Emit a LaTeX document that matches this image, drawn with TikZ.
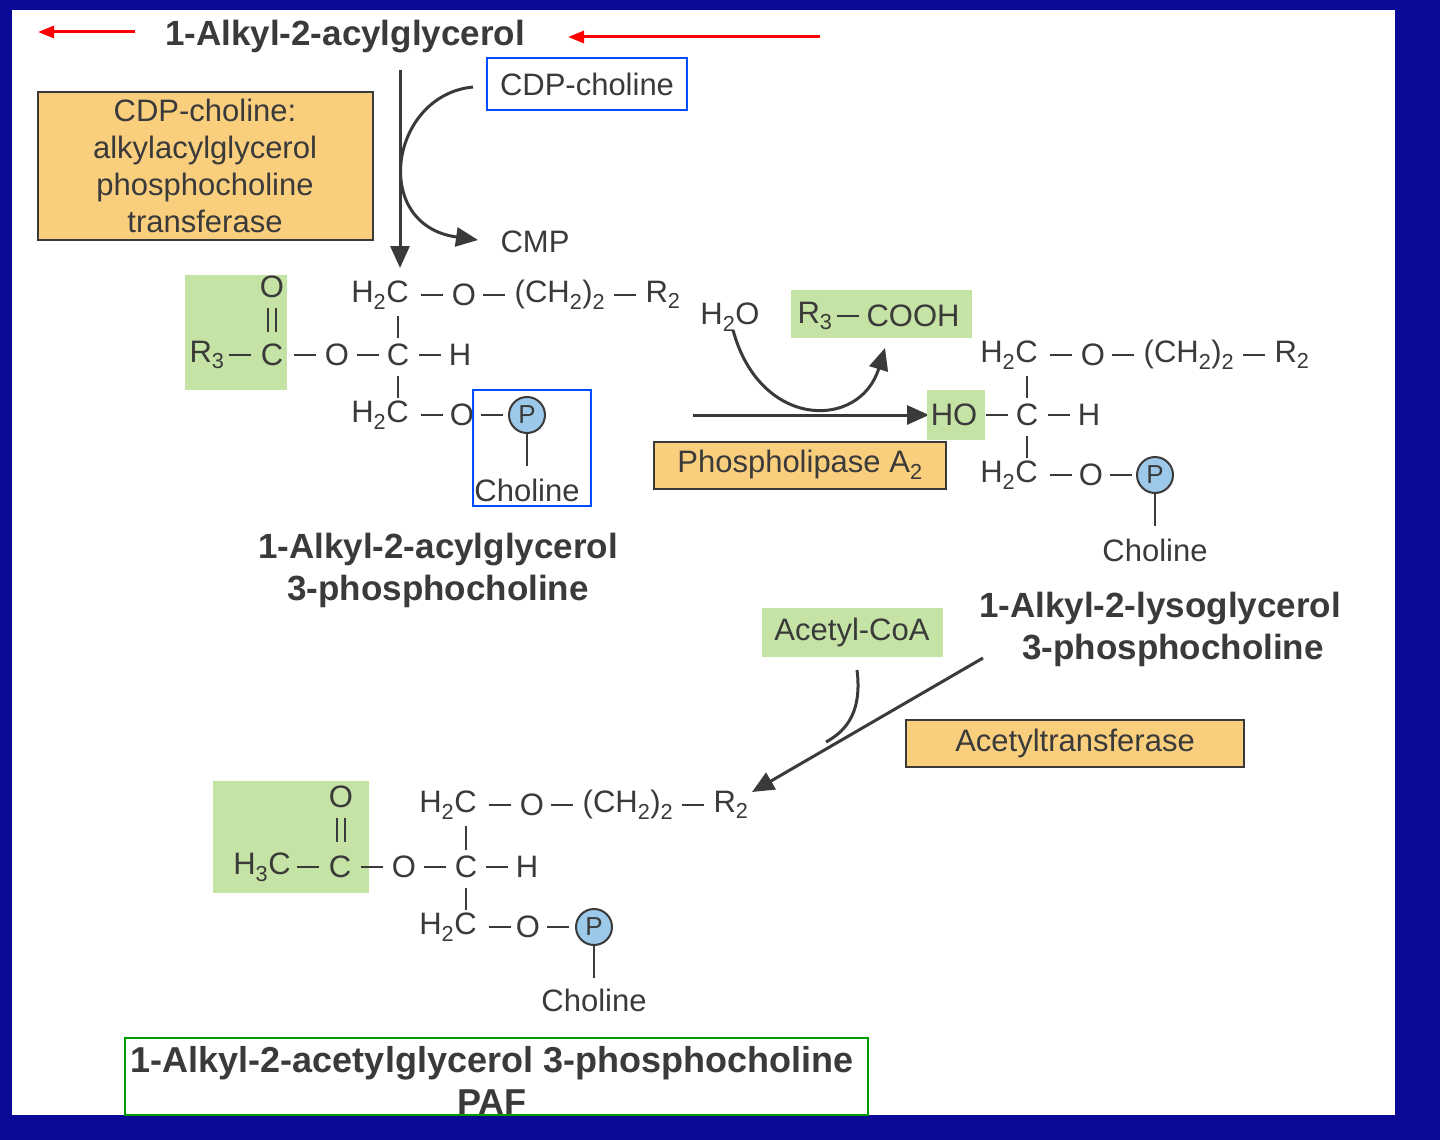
\documentclass[tikz,border=0pt]{standalone}
\usepackage{fontspec}
\setmainfont{Liberation Sans}
\usetikzlibrary{arrows.meta}
\definecolor{bord}{HTML}{0A0A96}
\definecolor{orangebox}{HTML}{F9CF7E}
\definecolor{greenbox}{HTML}{C4E3A4}
\definecolor{pblue}{HTML}{9CC9EA}
\definecolor{chem}{HTML}{3A3A3A}
\newcommand{\at}[3]{\node[ch] at (#1,#2) {#3};}
\newcommand{\hb}[2]{\draw[bond] (#1-11,#2)--(#1+11,#2);}
\begin{document}
\begin{tikzpicture}[x=1pt,y=-1pt,
 ch/.style={font=\fontsize{31}{34}\selectfont,text=chem,inner sep=0,anchor=center},
 ttl/.style={font=\fontsize{35}{42}\selectfont\bfseries,text=chem,inner sep=0,align=center},
 obox/.style={draw=chem,line width=1.5pt,fill=orangebox},
 bond/.style={chem,line width=2pt},
 pc/.style={circle,draw=chem,line width=2pt,fill=pblue,inner sep=1pt,font=\fontsize{26}{28}\selectfont,text=chem,minimum size=36pt},
 arr/.style={chem,line width=3pt,-{Triangle[length=22pt,width=19pt]}}]
\useasboundingbox (0,0) rectangle (1440,1140);
\fill[bord] (0,0) rectangle (1440,1140);
\fill[white] (12,10) rectangle (1395,1115);
% red arrows
\coordinate (ra1) at (135,32); \coordinate (ra2) at (38,32);
\coordinate (rb1) at (820,37); \coordinate (rb2) at (568,37);
\draw[red,line width=3pt,-{Triangle[length=16pt,width=12pt]}] (ra1)--(ra2);
\draw[red,line width=3pt,-{Triangle[length=16pt,width=12pt]}] (rb1)--(rb2);
\node[ttl] (t1) at (345,37) {1-Alkyl-2-acylglycerol};
\node[draw=blue!70!cyan,line width=2.5pt,minimum width=200pt,minimum height=52pt,font=\fontsize{31}{34}\selectfont,text=chem,inner sep=0] (cdp) at (587,84) {CDP-choline};
\fill[obox] (38,92) rectangle (373,240);
\node[font=\fontsize{31}{37}\selectfont,text=chem,align=center,inner sep=0] (enz1) at (205,166) {CDP-choline:\\alkylacylglycerol\\phosphocholine\\transferase};
% main arrow
\coordinate (a1s) at (400,70); \coordinate (a1e) at (400,268);
\draw[arr] (a1s)--(a1e);
\coordinate (c1s) at (473,87); \coordinate (c1e) at (478,240);
\draw[arr] (c1s) .. controls (390,95) and (370,225) .. (c1e);
\node[ch] (cmp) at (535,242) {CMP};
% molecule 1
\fill[greenbox] (185,275) rectangle (287,390);
\at{380}{295}{H\textsubscript{2}C}\hb{432}{295}\at{464}{295}{O}\hb{494}{295}
\at{560}{295}{(CH\textsubscript{2})\textsubscript{2}}\hb{625}{295}\at{663}{295}{R\textsubscript{2}}
\at{207}{355}{R\textsubscript{3}}\hb{240}{355}\at{272}{355}{C}\hb{305}{355}\at{337}{355}{O}\hb{368}{355}\at{398}{355}{C}\hb{430}{355}\at{460}{355}{H}
\at{380}{415}{H\textsubscript{2}C}\hb{432}{415}\at{462}{415}{O}\hb{492}{415}
\node[pc] (p1) at (527,415) {P};
\node[ch] (ch1) at (527,490) {Choline};
\node[ch] (o1) at (272,287) {O};
\draw[bond] (268,308)--(268,332) (276,308)--(276,332);
\draw[bond] (398,316)--(398,338) (398,376)--(398,398) (p1.south)--(527,466);
\draw[blue!70!cyan,line width=2.5pt] (473,390) rectangle (591,506);
\node[ttl] (l1) at (438,570) {1-Alkyl-2-acylglycerol\\3-phosphocholine};
% phospholipase
\node[ch] (h2o) at (730,317) {H\textsubscript{2}O};
\fill[greenbox] (791,290) rectangle (972,338);
\at{815}{316}{R\textsubscript{3}}\hb{848}{316}\at{913}{316}{COOH}
\coordinate (a2s) at (693,415); \coordinate (a2e) at (929,415);
\draw[arr] (a2s)--(a2e);
\coordinate (c2s) at (733,330); \coordinate (c2e) at (885,348);
\draw[arr] (c2s) .. controls (760,430) and (860,430) .. (c2e);
\fill[obox] (654,442) rectangle (946,489);
\node[ch] (pla) at (800,465) {Phospholipase A\textsubscript{2}};
% molecule 2
\fill[greenbox] (927,390) rectangle (985,440);
\at{1009}{355}{H\textsubscript{2}C}\hb{1061}{355}\at{1093}{355}{O}\hb{1123}{355}
\at{1189}{355}{(CH\textsubscript{2})\textsubscript{2}}\hb{1254}{355}\at{1292}{355}{R\textsubscript{2}}
\at{954}{415}{HO}\hb{997}{415}\at{1027}{415}{C}\hb{1059}{415}\at{1089}{415}{H}
\at{1009}{475}{H\textsubscript{2}C}\hb{1061}{475}\at{1091}{475}{O}\hb{1121}{475}
\node[pc] (p2) at (1155,475) {P};
\node[ch] (ch2) at (1155,550) {Choline};
\draw[bond] (1027,376)--(1027,398) (1027,436)--(1027,458) (p2.south)--(1155,526);
\node[ttl] (l2) at (1160,629) {1-Alkyl-2-lysoglycerol\\\hspace*{26pt}3-phosphocholine};
% acetyltransferase
\fill[greenbox] (762,608) rectangle (943,657);
\node[ch] (acoa) at (852,632) {Acetyl-CoA};
\fill[obox] (906,720) rectangle (1244,767);
\node[ch] (atr) at (1075,743) {Acetyltransferase};
\coordinate (a3s) at (983,658); \coordinate (a3e) at (752,792);
\draw[arr] (a3s)--(a3e);
\coordinate (c3s) at (857,670); \coordinate (c3e) at (826,742);
\draw[chem,line width=3pt] (c3s) .. controls (862,710) and (848,730) .. (c3e);
% molecule 3
\fill[greenbox] (213,781) rectangle (369,893);
\at{448}{805}{H\textsubscript{2}C}\hb{500}{805}\at{532}{805}{O}\hb{562}{805}
\at{628}{805}{(CH\textsubscript{2})\textsubscript{2}}\hb{693}{805}\at{731}{805}{R\textsubscript{2}}
\at{262}{867}{H\textsubscript{3}C}\hb{308}{867}\at{340}{867}{C}\hb{372}{867}\at{404}{867}{O}\hb{435}{867}\at{466}{867}{C}\hb{497}{867}\at{527}{867}{H}
\at{448}{927}{H\textsubscript{2}C}\hb{500}{927}\at{528}{927}{O}\hb{558}{927}
\node[pc] (p3) at (594,927) {P};
\node[ch] (ch3) at (594,1000) {Choline};
\node[ch] (o3) at (341,797) {O};
\draw[bond] (337,818)--(337,842) (345,818)--(345,842);
\draw[bond] (466,826)--(466,850) (466,888)--(466,910) (p3.south)--(594,978);
\draw[green!60!black,line width=2.5pt] (125,1038) rectangle (868,1115);
\begin{scope}
\clip (125,1038) rectangle (868,1115);
\node[ttl,font=\fontsize{36}{42}\selectfont\bfseries] (l3) at (492,1080) {1-Alkyl-2-acetylglycerol 3-phosphocholine\\PAF};
\end{scope}
\end{tikzpicture}
\end{document}
